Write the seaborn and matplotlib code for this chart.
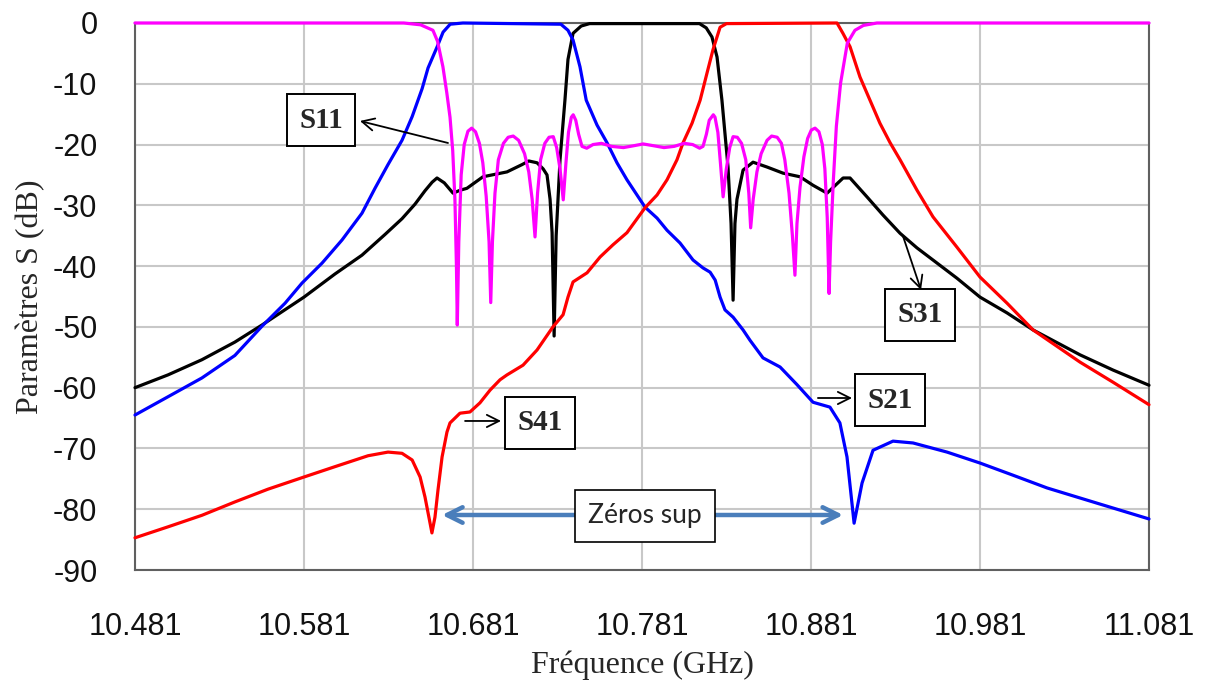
import numpy as np
import pandas as pd
import seaborn as sns
import matplotlib.pyplot as plt
from matplotlib.ticker import FixedLocator

# --- données (GHz, dB) ---
freq_s21 = [10.481, 10.5005, 10.5206, 10.5401, 10.5561, 10.5698, 10.5798, 10.5917, 10.6035, 10.6153,
            10.6230, 10.6307, 10.6390, 10.6450, 10.6509, 10.6544, 10.6598, 10.6633, 10.6675, 10.675,
            10.733, 10.7372, 10.7402, 10.7443, 10.748, 10.7544, 10.7603, 10.7662, 10.7721, 10.7828,
            10.7899, 10.7958, 10.8035, 10.8112, 10.8171, 10.8213, 10.8243, 10.8272, 10.8301, 10.8349,
            10.8408, 10.8449, 10.8526, 10.8627, 10.8727, 10.8822, 10.8922, 10.8981, 10.9023, 10.9065,
            10.9112, 10.9177, 10.9295, 10.9414, 10.9615, 10.9810, 11.0005, 11.0207, 11.0502, 11.081]
s21 = [-64.5, -61.5, -58.4, -54.7, -49.9, -46.1, -42.8, -39.5, -35.7, -31.3,
       -27.2, -23.3, -19.3, -15.4, -10.8, -7.4, -3.9, -1.5, -0.2, 0.0,
       -0.2, -1.2, -2.8, -7.2, -12.7, -16.8, -19.7, -23.0, -25.8, -30.3,
       -32.1, -34.1, -36.2, -39.0, -40.3, -41.0, -42.3, -45.1, -47.2, -48.4,
       -50.5, -52.2, -55.1, -56.6, -59.5, -62.4, -63.2, -65.8, -71.4, -82.3,
       -75.7, -70.3, -68.8, -69.1, -70.6, -72.4, -74.4, -76.5, -79.0, -81.6]

freq_s41 = [10.481, 10.5005, 10.5206, 10.5401, 10.5597, 10.581, 10.5993, 10.6189, 10.6307, 10.6390,
            10.6450, 10.6497, 10.6526, 10.6556, 10.6567, 10.6585, 10.6603, 10.6627, 10.6656, 10.6674,
            10.6733, 10.6792, 10.6851, 10.6911, 10.6970, 10.7011, 10.7106, 10.7189, 10.7283, 10.7343,
            10.7372, 10.7402, 10.7485, 10.7562, 10.7638, 10.7721, 10.7828, 10.7899, 10.7958, 10.8017,
            10.8053, 10.8106, 10.8154, 10.8195, 10.8230, 10.8272, 10.831, 10.8964, 10.8999, 10.9041,
            10.9100, 10.9159, 10.9218, 10.9278, 10.9337, 10.9437, 10.9532, 10.9674, 10.9810, 10.9970,
            11.0124, 11.0402, 11.0597, 11.081]
s41 = [-84.7, -82.9, -81.0, -78.8, -76.7, -74.7, -73.0, -71.2, -70.6, -70.8,
       -71.9, -74.7, -78.0, -82.3, -83.9, -81.3, -76.8, -71.4, -67.3, -65.8,
       -64.2, -64.0, -62.5, -60.4, -58.7, -57.9, -56.3, -53.8, -50.0, -48.0,
       -45.1, -42.6, -41.1, -38.5, -36.5, -34.5, -30.4, -28.3, -25.8, -22.5,
       -19.7, -16.5, -12.7, -8.2, -4.4, -0.7, -0.1, 0.0, -1.7, -3.9,
       -8.9, -12.7, -16.5, -19.7, -22.5, -27.5, -31.9, -36.9, -41.8, -46.1,
       -50.5, -55.8, -59.1, -62.8]

freq_s31 = [10.481, 10.5005, 10.5206, 10.5401, 10.5561, 10.5810, 10.5993, 10.6153, 10.6289, 10.6390,
            10.6467, 10.6526, 10.6568, 10.6597, 10.664, 10.6692, 10.6735, 10.6774, 10.6869, 10.7011,
            10.710, 10.714, 10.7189, 10.7225, 10.7248, 10.7266, 10.7278, 10.729, 10.7302, 10.7313,
            10.7325, 10.7354, 10.7372, 10.7402, 10.745, 10.750, 10.815, 10.819, 10.8224, 10.8254,
            10.8283, 10.8319, 10.8337, 10.8349, 10.836, 10.8372, 10.8408, 10.8467, 10.855, 10.8644,
            10.8745, 10.8822, 10.8905, 10.900, 10.9041, 10.9141, 10.9236, 10.9337, 10.9437, 10.9532,
            10.9674, 10.9810, 10.9970, 11.0124, 11.0402, 11.0597, 11.081]
s31 = [-60.0, -57.9, -55.4, -52.5, -49.7, -45.1, -41.3, -38.2, -34.8, -32.2,
       -29.8, -27.6, -26.2, -25.5, -26.3, -28.0, -27.5, -27.2, -25.3, -24.5,
       -23.3, -22.7, -23.0, -24.0, -25.0, -29.0, -34.5, -51.5, -35.0, -29.0,
       -22.5, -12.7, -6.0, -1.7, -0.5, -0.1, -0.1, -0.8, -2.3, -5.6,
       -12.7, -23.7, -33.0, -45.6, -33.0, -29.0, -24.2, -22.9, -23.7, -24.7,
       -25.3, -26.7, -28.0, -25.5, -25.5, -28.6, -31.6, -34.6, -37.0, -39.0,
       -42.0, -45.1, -47.7, -50.5, -54.6, -57.1, -59.6]

freq_s11 = [10.481, 10.640, 10.650, 10.6573, 10.660, 10.6632, 10.6655, 10.6674, 10.669, 10.6703,
            10.6712, 10.6717, 10.6726, 10.674, 10.6758, 10.678, 10.6802, 10.6825, 10.6848, 10.6868,
            10.6888, 10.6905, 10.6915, 10.6925, 10.694, 10.696, 10.699, 10.7018, 10.7048, 10.708,
            10.7115, 10.714, 10.716, 10.7177, 10.7192, 10.721, 10.7235, 10.726, 10.7285, 10.7305,
            10.7325, 10.7344, 10.736, 10.7375, 10.7392, 10.7403, 10.7418, 10.7435, 10.7455, 10.7483,
            10.752, 10.757, 10.763, 10.770, 10.776, 10.7817, 10.788, 10.794, 10.800, 10.806,
            10.811, 10.8151, 10.8171, 10.8191, 10.8208, 10.8232, 10.8242, 10.8259, 10.8274, 10.829,
            10.8309, 10.8329, 10.8349, 10.8374, 10.8399, 10.8424, 10.8442, 10.8453, 10.8468, 10.849,
            10.8515, 10.855, 10.8577, 10.861, 10.8635, 10.8655, 10.868, 10.870, 10.8715, 10.8727,
            10.8745, 10.8768, 10.879, 10.8812, 10.8834, 10.8857, 10.8877, 10.8892, 10.8906, 10.8917,
            10.8926, 10.8942, 10.896, 10.8985, 10.9025, 10.907, 10.912, 10.920, 11.081]
s11 = [0.0, 0.0, -0.3, -1.2, -3.0, -7.2, -11.5, -15.5, -21.0, -29.0,
       -40.0, -49.7, -36.0, -25.0, -20.0, -17.8, -17.3, -17.9, -19.8, -23.0,
       -28.5, -36.0, -46.0, -36.0, -28.0, -22.5, -19.8, -18.8, -18.6, -19.3,
       -21.5, -24.5, -29.0, -35.2, -28.0, -22.5, -19.8, -18.8, -18.7, -20.5,
       -24.0, -29.1, -23.0, -18.0, -15.5, -15.1, -16.0, -18.3, -20.3, -20.6,
       -20.0, -19.8, -20.3, -20.5, -20.2, -19.9, -20.2, -20.5, -20.3, -19.8,
       -20.0, -20.6, -20.3, -18.3, -16.0, -15.1, -15.5, -18.0, -23.0, -28.6,
       -24.0, -20.5, -18.7, -18.8, -19.8, -22.5, -28.0, -33.7, -29.0, -24.5,
       -21.5, -19.3, -18.6, -18.8, -19.8, -22.5, -28.0, -35.0, -41.5, -33.0,
       -27.0, -22.0, -19.0, -17.6, -17.3, -17.9, -20.0, -24.0, -32.0, -44.5,
       -36.0, -26.0, -17.0, -9.9, -3.3, -1.2, -0.4, 0.0, 0.0]

x_ticks = [10.481, 10.581, 10.681, 10.781, 10.881, 10.981, 11.081]
x_tick_labels = ["10.481", "10.581", "10.681", "10.781", "10.881", "10.981", "11.081"]
y_ticks = [0, -10, -20, -30, -40, -50, -60, -70, -80, -90]
y_tick_labels = ["0", "-10", "-20", "-30", "-40", "-50", "-60", "-70", "-80", "-90"]

df = pd.concat([
    pd.DataFrame({"freq": freq_s31, "db": s31, "courbe": "S31"}),
    pd.DataFrame({"freq": freq_s21, "db": s21, "courbe": "S21"}),
    pd.DataFrame({"freq": freq_s41, "db": s41, "courbe": "S41"}),
    pd.DataFrame({"freq": freq_s11, "db": s11, "courbe": "S11"}),
])
couleurs = {"S31": "black", "S21": "#0000FF", "S41": "#FF0000", "S11": "#FF00FF"}

sns.set_theme(style="white")
plt.rcParams["font.family"] = ["Liberation Sans", "DejaVu Sans"]
plt.rcParams["axes.unicode_minus"] = False

fig = plt.figure(figsize=(12.06, 6.84), dpi=100)
ax = fig.add_axes([135 / 1206, 1 - 570 / 684, (1149 - 135) / 1206, (570 - 23) / 684])

sns.lineplot(data=df, x="freq", y="db", hue="courbe", hue_order=["S31", "S21", "S41", "S11"],
             palette=couleurs, estimator=None, sort=False, linewidth=2.3, legend=False,
             clip_on=False, zorder=3, ax=ax)

ax.set_xlim(10.481, 11.081)
ax.set_ylim(-90, 0)
ax.xaxis.set_major_locator(FixedLocator(x_ticks))
ax.xaxis.set_minor_locator(FixedLocator(np.linspace(10.481, 11.081, 31)))
ax.yaxis.set_major_locator(FixedLocator(y_ticks))
ax.yaxis.set_minor_locator(FixedLocator(np.arange(-85, 0, 10)))
ax.set_xticklabels(x_tick_labels)
ax.set_yticklabels(y_tick_labels)
ax.grid(True, which="major", color="#C8C8C8", linewidth=1.5, zorder=0)
ax.set_axisbelow(True)
ax.tick_params(axis="both", which="major", direction="out", length=22, width=1.3,
               color="#505050", labelsize=22, labelcolor="#111111")
ax.tick_params(axis="x", which="major", pad=8)
ax.tick_params(axis="y", which="major", pad=4, length=23)
ax.tick_params(axis="both", which="minor", direction="out", length=11, width=1.3, color="#505050")
ax.tick_params(axis="y", which="minor", length=12)
for s in ax.spines.values():
    s.set_color("#606060")
    s.set_linewidth(1.5)

ax.set_xlabel("Fréquence (GHz)", family="Liberation Serif", fontsize=23, labelpad=6)
ax.set_ylabel("Paramètres S (dB)", family="Liberation Serif", fontsize=23, labelpad=6)

# étiquettes encadrées
boite = dict(boxstyle="square,pad=0.42", fc="white", ec="black", lw=1.4)
fleche = dict(arrowstyle="->", color="black", lw=1.3, mutation_scale=22, shrinkA=0, shrinkB=0)
etiquettes = [("S11", (10.5911, -15.96), (10.6662, -19.74), (10.6141, -16.12)),
              ("S31", (10.9455, -48.04), (10.9354, -35.04), (10.9461, -43.93)),
              ("S21", (10.9278, -62.03), (10.8851, -61.70), (10.9053, -61.70)),
              ("S41", (10.7206, -65.81), (10.6763, -65.48), (10.6976, -65.48))]
for nom, centre, queue, tete in etiquettes:
    ax.annotate("", xy=tete, xytext=queue, arrowprops=fleche, zorder=5)
    ax.text(centre[0], centre[1], nom, family="Liberation Serif", weight="bold", fontsize=21,
            ha="center", va="center", bbox=boite, zorder=6)

ax.annotate("", xy=(10.9000, -80.95), xytext=(10.6627, -80.95),
            arrowprops=dict(arrowstyle="<->", color="#4A7EBB", lw=3.2, mutation_scale=28,
                            shrinkA=0, shrinkB=0), zorder=5)
ax.text(10.7828, -81.11, "Zéros sup", family="Lato", fontsize=19, ha="center", va="center",
        bbox=dict(boxstyle="square,pad=0.5", fc="white", ec="black", lw=1.2), zorder=6)

plt.savefig("out.png", dpi=100)
plt.close()
